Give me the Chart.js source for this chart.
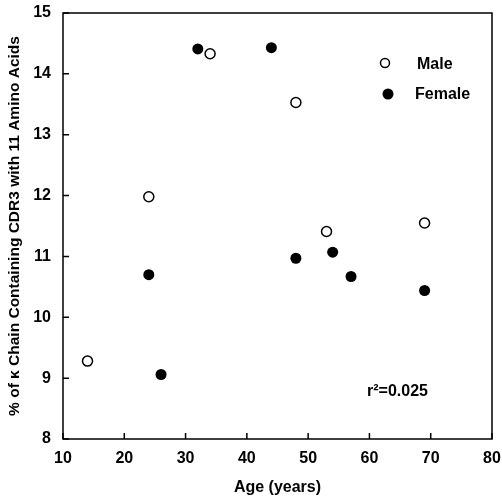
<!DOCTYPE html>
<html>
<head>
<meta charset="utf-8">
<script src="https://cdn.jsdelivr.net/npm/chart.js@4.4.0/dist/chart.umd.min.js"></script>
<style>
  html, body { margin: 0; padding: 0; background: #fff; }
  #wrap { width: 502px; height: 498px; }
</style>
</head>
<body>
<div id="wrap"><canvas id="chart" width="502" height="498"></canvas></div>
<script>
// age (years) and % of kappa chains with 11 aa CDR3
const maleAge = [14, 24, 34, 48, 53, 69];
const maleVal = [9.28, 11.98, 14.33, 13.53, 11.41, 11.55];
const femaleAge = [24, 26, 32, 44, 48, 54, 57, 69];
const femaleVal = [10.70, 9.06, 14.41, 14.43, 10.97, 11.07, 10.67, 10.44];
const xTicks = [10, 20, 30, 40, 50, 60, 70, 80];
const yTicks = [8, 9, 10, 11, 12, 13, 14, 15];
const r2Text = 'r\u00b2=0.025';

const FONT = '"Liberation Sans", Arial, sans-serif';

function pts(xs, ys) {
  return xs.map((x, i) => ({ x: x, y: ys[i] }));
}

// box frame, inward ticks, legend and r2 note
const extras = {
  id: 'extras',
  afterDraw(chart) {
    const ctx = chart.ctx;
    const a = chart.chartArea;
    const sx = chart.scales.x, sy = chart.scales.y;
    ctx.save();
    ctx.strokeStyle = '#000';
    ctx.lineWidth = 1.5;
    ctx.strokeRect(a.left, a.top, a.right - a.left, a.bottom - a.top);
    ctx.beginPath();
    xTicks.forEach(v => {
      const px = sx.getPixelForValue(v);
      ctx.moveTo(px, a.bottom);
      ctx.lineTo(px, a.bottom - 6);
    });
    yTicks.forEach(v => {
      const py = sy.getPixelForValue(v);
      ctx.moveTo(a.left, py);
      ctx.lineTo(a.left + 6, py);
    });
    ctx.stroke();

    // legend
    ctx.font = 'bold 16px ' + FONT;
    ctx.fillStyle = '#000';
    ctx.textBaseline = 'middle';
    ctx.textAlign = 'left';
    ctx.lineWidth = 1.5;
    ctx.beginPath();
    ctx.arc(a.left + 322, a.top + 50, 4.5, 0, Math.PI * 2);
    ctx.stroke();
    ctx.fillText(chart.data.datasets[0].label, a.left + 354, a.top + 52);
    ctx.beginPath();
    ctx.arc(a.left + 325, a.top + 81, 5.5, 0, Math.PI * 2);
    ctx.fill();
    ctx.fillText(chart.data.datasets[1].label, a.left + 352, a.top + 82);

    // r squared note
    ctx.fillText(r2Text, a.left + 304, a.top + 379);
    ctx.restore();
  }
};

const tickFont = { family: FONT, size: 16, weight: 'bold' };

new Chart(document.getElementById('chart'), {
  type: 'scatter',
  data: {
    datasets: [
      {
        label: 'Male',
        data: pts(maleAge, maleVal),
        pointStyle: 'circle',
        pointRadius: 5,
        pointBorderWidth: 1.5,
        pointBackgroundColor: '#fff',
        pointBorderColor: '#000'
      },
      {
        label: 'Female',
        data: pts(femaleAge, femaleVal),
        pointStyle: 'circle',
        pointRadius: 5.5,
        pointBorderWidth: 0,
        pointBackgroundColor: '#000',
        pointBorderColor: '#000'
      }
    ]
  },
  options: {
    responsive: false,
    animation: false,
    layout: { padding: { top: 13, right: 10, left: 0, bottom: 0 } },
    plugins: {
      legend: { display: false },
      tooltip: { enabled: false }
    },
    scales: {
      x: {
        type: 'linear',
        min: 10, max: 80,
        afterBuildTicks: s => { s.ticks = xTicks.map(v => ({ value: v })); },
        afterFit: s => { s.height = 59; s.paddingLeft = 0; s.paddingRight = 0; },
        grid: { display: false, drawTicks: false },
        border: { display: false },
        ticks: { color: '#000', font: tickFont, padding: 10 },
        title: {
          display: true,
          text: 'Age (years)',
          color: '#000',
          font: tickFont,
          padding: { top: 0, bottom: 1 }
        }
      },
      y: {
        type: 'linear',
        min: 8, max: 15,
        afterBuildTicks: s => { s.ticks = yTicks.map(v => ({ value: v })); },
        afterFit: s => { s.width = 63; s.paddingTop = 0; s.paddingBottom = 0; },
        grid: { display: false, drawTicks: false },
        border: { display: false },
        ticks: { color: '#000', font: tickFont, padding: 12 },
        title: {
          display: true,
          text: '% of \u03ba Chain Containing CDR3 with 11 Amino Acids',
          color: '#000',
          font: { family: FONT, size: 15.5, weight: 'bold' },
          padding: { top: 5, bottom: 0 }
        }
      }
    }
  },
  plugins: [extras]
});
</script>
</body>
</html>
